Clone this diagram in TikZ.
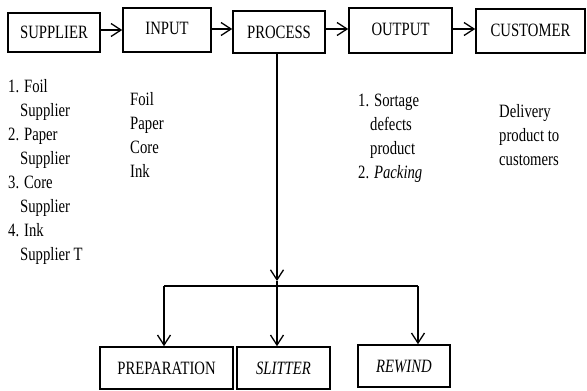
\documentclass[tikz,border=0pt]{standalone}
\usepackage{fontspec}
\usepackage{graphicx}
\setmainfont{Liberation Serif}
\usetikzlibrary{arrows.meta}

% text is set slightly condensed: stretch vertically
\newcommand{\tall}[1]{\scalebox{1}[1.28]{#1}}
\newcommand{\lines}[1]{\tall{\begin{tabular}{@{}l@{}}#1\end{tabular}}}

\tikzset{
  stagebox/.style={draw, line width=1.6pt, inner sep=0pt, font=\fontsize{14.7}{19}\selectfont},
  flow/.style={line width=1.3pt, -{Straight Barb[length=10pt,width=13pt,line width=1.3pt]}},
  plain/.style={line width=1.3pt},
  notes/.style={inner sep=0pt, anchor=west, align=left, font=\fontsize{14.7}{18.8}\selectfont}
}

\begin{document}
\begin{tikzpicture}[x=1pt,y=-1pt]
\useasboundingbox (0,0) rectangle (587,391);

% main value chain
\node[stagebox, minimum width=92pt, minimum height=39pt]  (sup)  at (54,32.5)   {\tall{SUPPLIER}};
\node[stagebox, minimum width=88pt, minimum height=44pt]  (inp)  at (167,30)    {\raisebox{3pt}{\tall{INPUT}}};
\node[stagebox, minimum width=92pt, minimum height=42pt]  (proc) at (279,32)    {\tall{PROCESS}};
\node[stagebox, minimum width=103pt, minimum height=45pt] (outp) at (400.5,30.5){\raisebox{2pt}{\tall{OUTPUT}}};
\node[stagebox, minimum width=109pt, minimum height=44pt] (cust) at (530.5,31)  {\raisebox{2pt}{\tall{CUSTOMER}}};

\draw[flow] (sup.east |- 0,30) -- (inp.west |- 0,30);
\draw[flow] (inp.east |- 0,29) -- (proc.west |- 0,29);
\draw[flow] (proc.east |- 0,29) -- (outp.west |- 0,29);
\draw[flow] (outp.east |- 0,29) -- (cust.west |- 0,29);

% process sub-steps
\node[stagebox, minimum width=133pt, minimum height=42pt] (prep) at (166.5,368) {\tall{PREPARATION}};
\node[stagebox, minimum width=93pt, minimum height=42pt]  (slit) at (283.5,368) {\tall{\textit{SLITTER}}\hspace{10pt}};
\node[stagebox, minimum width=92pt, minimum height=42pt]  (rew)  at (404,366)   {\tall{\textit{REWIND}}};

\coordinate (pbot) at (277,53);
\coordinate (tip)  at (277,281);
\coordinate (jl)   at (164,286);
\coordinate (jr)   at (418,286);

\draw[flow]  (proc.south -| pbot) -- (tip);
\draw[plain] (jl) -- (jr);
\draw[flow]  (tip) -- (slit.north -| tip);
\draw[flow]  (jl) -- (prep.north -| jl);
\draw[flow]  (jr) -- (rew.north -| jr);

% descriptions under each stage
\node[notes] (supnotes) at (8,171.5) {\lines{1. Foil\\\hspace*{12pt}Supplier\\2. Paper\\\hspace*{12pt}Supplier\\3. Core\\\hspace*{12pt}Supplier\\4. Ink\\\hspace*{12pt}Supplier T}};
\node[notes] (inpnotes) at (130,136.5) {\lines{Foil\\Paper\\Core\\Ink}};
\node[notes] (outnotes) at (358,137.5) {\lines{1. Sortage\\\hspace*{12pt}defects\\\hspace*{12pt}product\\2. \textit{Packing}}};
\node[notes] (custnotes) at (499,137) {\lines{Delivery\\product to\\customers}};
\end{tikzpicture}
\end{document}
